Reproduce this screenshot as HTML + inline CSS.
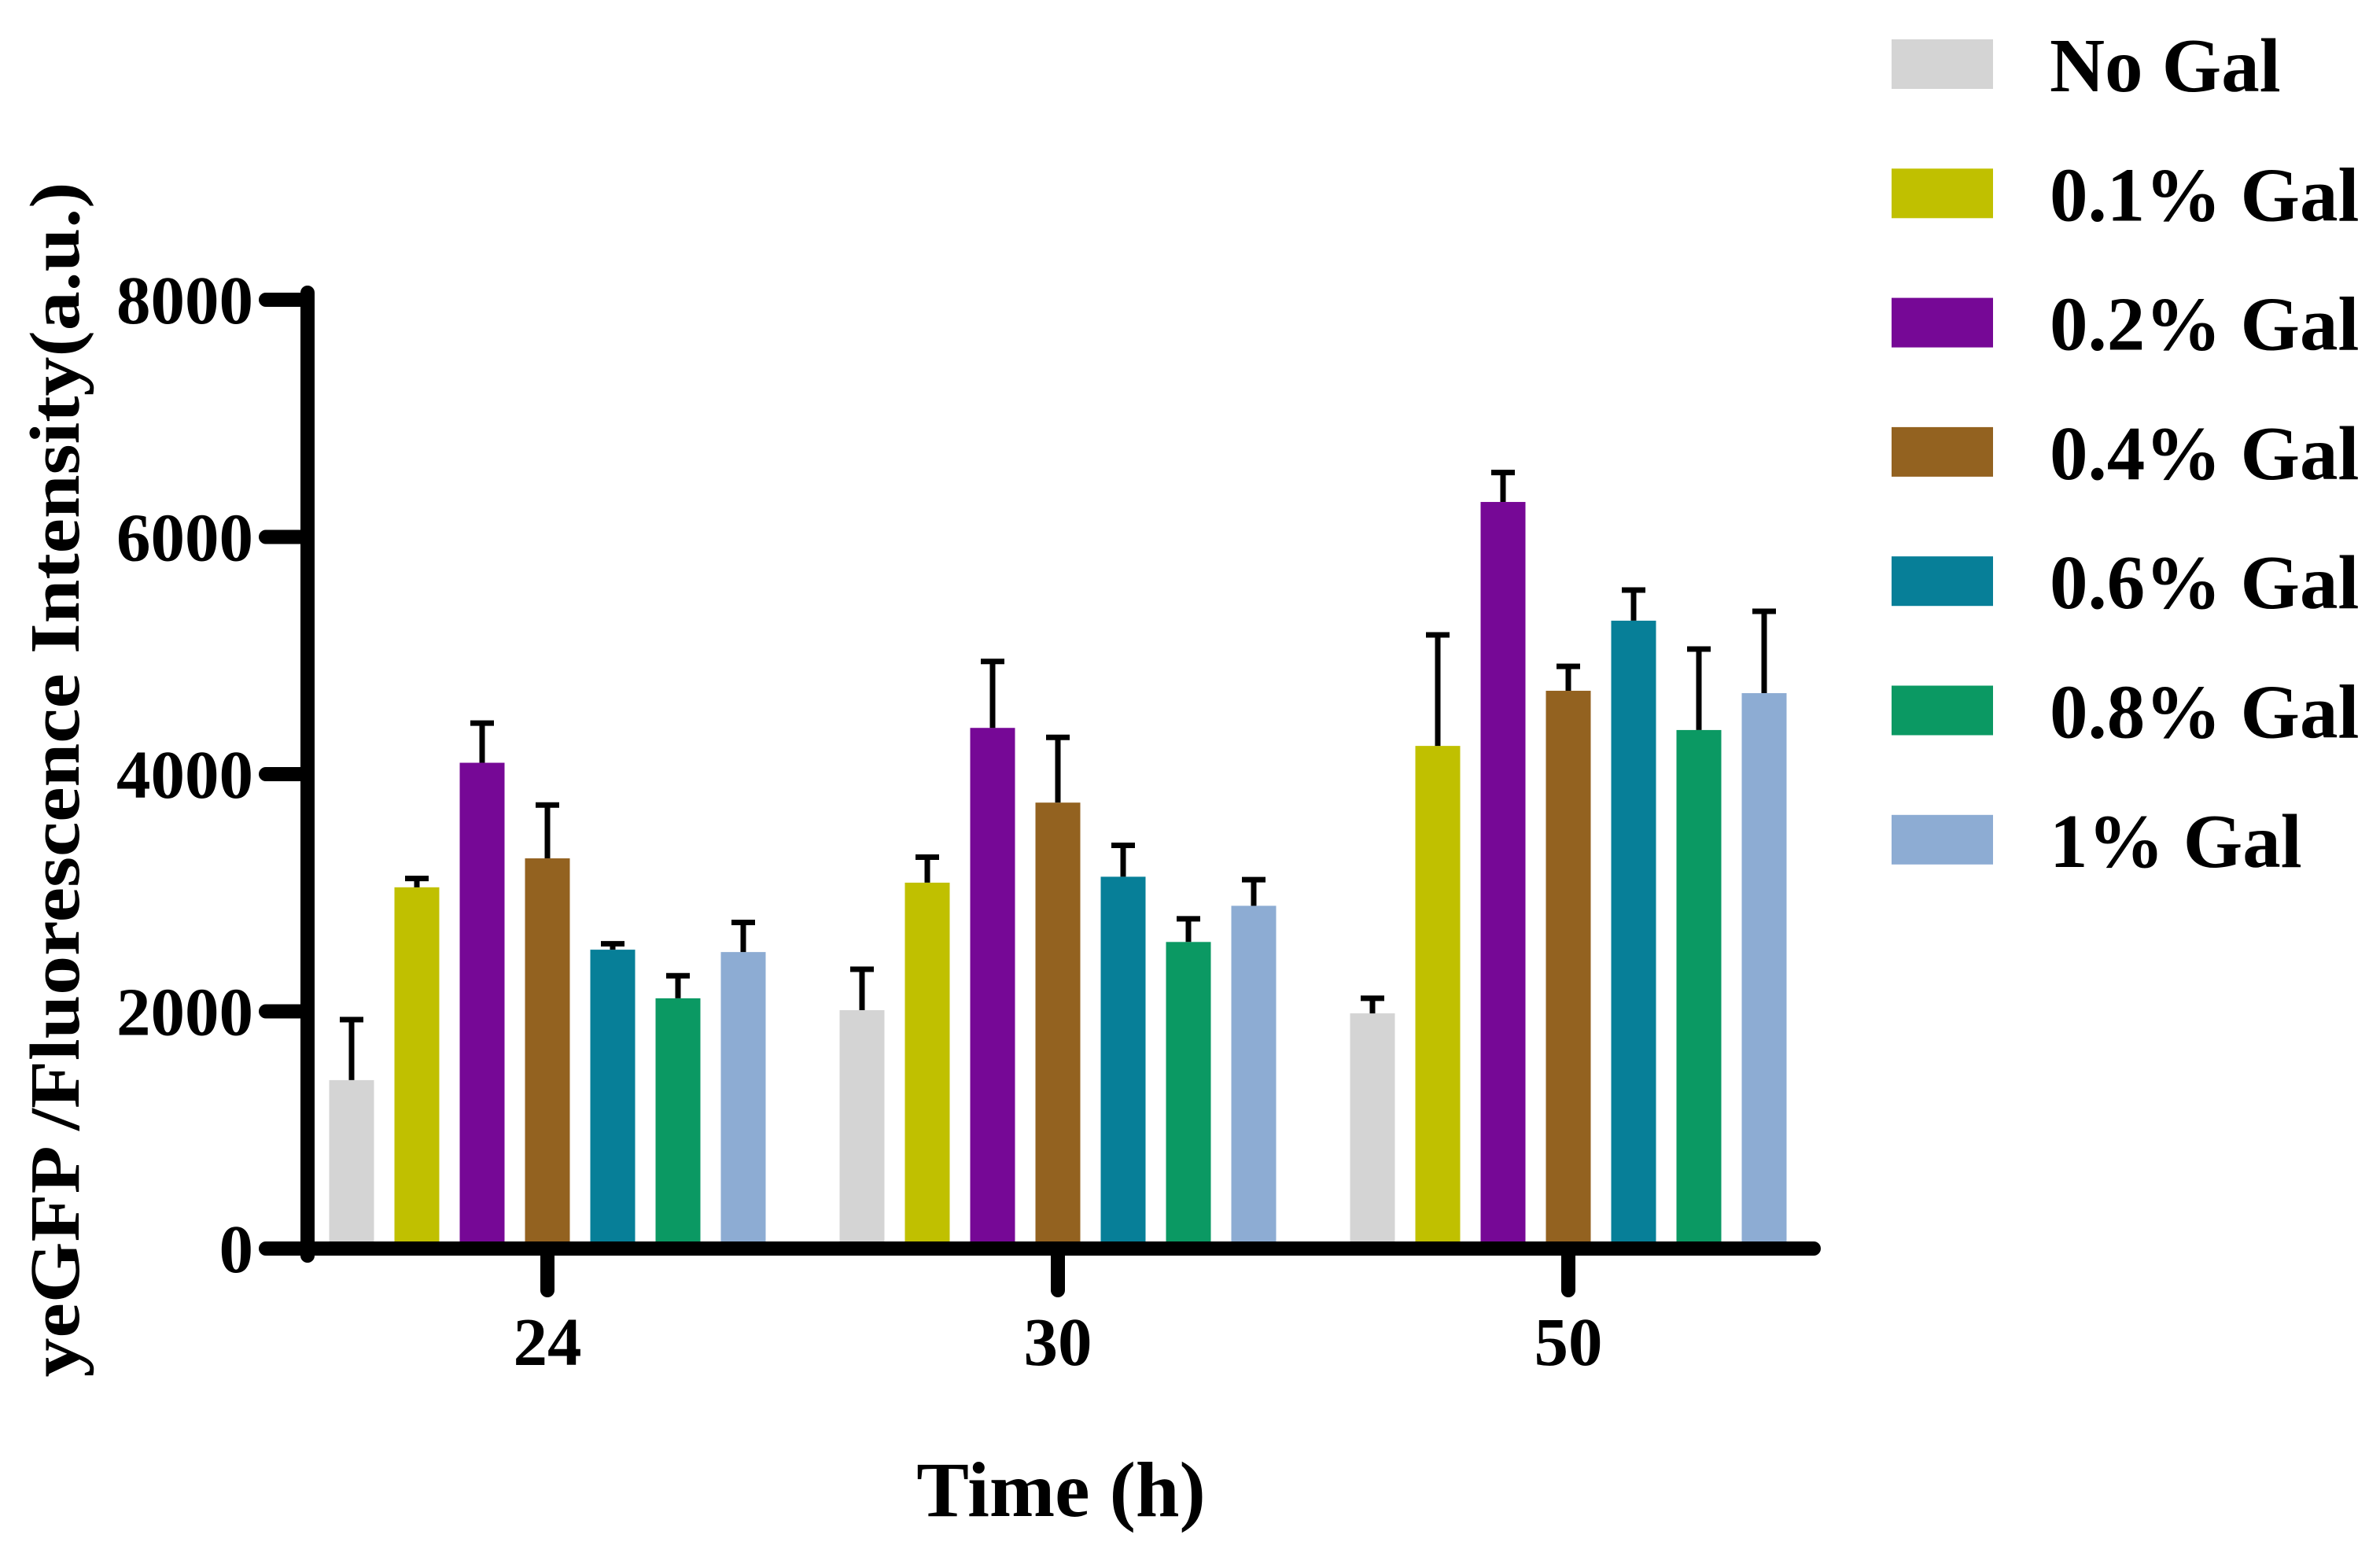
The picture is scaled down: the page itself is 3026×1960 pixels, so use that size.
<!DOCTYPE html>
<html><head><meta charset="utf-8"><style>
html,body{margin:0;padding:0;background:#fff;width:3026px;height:1960px;overflow:hidden}
svg{display:block}
text{font-family:"Liberation Serif",serif;font-weight:bold;fill:#000}
</style></head><body>
<svg id="chart" width="3026" height="1960" viewBox="0 0 3026 1960" xmlns="http://www.w3.org/2000/svg">
<g id="bars"></g>
<g id="errs"></g>
<g id="axes"></g>
<g id="legend"></g>
<text x="0" y="0" font-size="90" text-anchor="middle" transform="translate(100,991) rotate(-90)" textLength="1519" lengthAdjust="spacingAndGlyphs">yeGFP /Fluorescence Intensity(a.u.)</text>
<text x="1349" y="1927" font-size="100" text-anchor="middle">Time (h)</text>
</svg>
<script>
const categories = ["24", "30", "50"];
const seriesNames = ["No Gal", "0.1% Gal", "0.2% Gal", "0.4% Gal", "0.6% Gal", "0.8% Gal", "1% Gal"];
const seriesColors = ["#d4d4d4", "#c0c000", "#760896", "#936220", "#077f98", "#0b9963", "#8dacd3"];
const means = [
  [1420, 2010, 1983],
  [3046, 3085, 4238],
  [4096, 4390, 6295],
  [3290, 3760, 4703],
  [2520, 3135, 5294],
  [2110, 2585, 4372],
  [2500, 2890, 4683]
];
const errTops = [
  [1930, 2355, 2110],
  [3120, 3300, 5174],
  [4430, 4950, 6543],
  [3740, 4310, 4909],
  [2570, 3400, 5552],
  [2300, 2780, 5055],
  [2750, 3110, 5373]
];
const yTicks = [0, 2000, 4000, 6000, 8000];

const NS = "http://www.w3.org/2000/svg";
const Y0 = 1587, PXU = 1206 / 8000;
function yScale(v) { return Y0 - v * PXU; }
const GROUP0 = 696, GROUPSTEP = 649, BARSTEP = 83, BARW = 57;
function groupX(i) { return GROUP0 + i * GROUPSTEP; }
function barCenter(g, s) { return groupX(g) + (s - 3) * BARSTEP; }
function mk(tag, attrs, parent) {
  const e = document.createElementNS(NS, tag);
  for (const k in attrs) e.setAttribute(k, attrs[k]);
  parent.appendChild(e); return e;
}
const bars = document.getElementById("bars"), errs = document.getElementById("errs"),
      axes = document.getElementById("axes"), legend = document.getElementById("legend");

for (let s = 0; s < seriesNames.length; s++) {
  for (let g = 0; g < categories.length; g++) {
    const cx = barCenter(g, s);
    const top = yScale(means[s][g]);
    const r = mk("rect", {x: cx - BARW / 2, y: top, width: BARW, height: Y0 - top, fill: seriesColors[s]}, bars);
    
    
    const et = yScale(errTops[s][g]);
    const l = mk("path", {d: `M${cx},${top} V${et} M${cx - 15},${et} H${cx + 15}`, stroke: "#000", "stroke-width": 7, fill: "none"}, errs);
    
    
  }
}
const ya = mk("line", {x1: 391, y1: 372, x2: 391, y2: 1596, stroke: "#000", "stroke-width": 18, "stroke-linecap": "round"}, axes);


const xa = mk("line", {x1: 391, y1: Y0, x2: 2306, y2: Y0, stroke: "#000", "stroke-width": 18, "stroke-linecap": "round"}, axes);


for (const t of yTicks) {
  const y = yScale(t);
  const tl = mk("line", {x1: 338, y1: y, x2: 391, y2: y, stroke: "#000", "stroke-width": 18, "stroke-linecap": "round"}, axes);
  
  
  const tx = mk("text", {x: 322, y: y + 30, "font-size": 87, "text-anchor": "end"}, axes);
  tx.textContent = t;
  
  
}
for (let g = 0; g < categories.length; g++) {
  const x = groupX(g);
  const tl = mk("line", {x1: x, y1: Y0, x2: x, y2: 1640, stroke: "#000", "stroke-width": 18, "stroke-linecap": "round"}, axes);
  
  
  const tx = mk("text", {x: x, y: 1735, "font-size": 87, "text-anchor": "middle"}, axes);
  tx.textContent = categories[g];
  
  
}
for (let s = 0; s < seriesNames.length; s++) {
  const cy = 81 + s * 164.3;
  const g = mk("g", {}, legend);
  
  
  const sw = mk("rect", {x: 2405, y: cy - 31, width: 129, height: 63, fill: seriesColors[s]}, g);
  
  
  const tx = mk("text", {x: 2606, y: cy + 35, "font-size": 97}, g);
  tx.textContent = seriesNames[s];
  
  
}
</script>
</body></html>
